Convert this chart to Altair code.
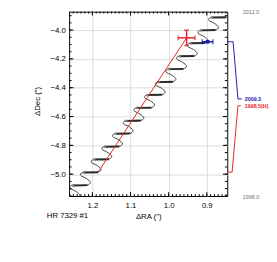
import altair as alt
import pandas as pd

# background track (RA offset, Dec offset), 6 points per yearly loop
track_ra = [1.279, 1.241, 1.233, 1.243, 1.259, 1.257,
            1.251, 1.213, 1.205, 1.215, 1.231, 1.229,
            1.223, 1.185, 1.177, 1.187, 1.203, 1.201,
            1.195, 1.157, 1.149, 1.159, 1.175, 1.173,
            1.167, 1.129, 1.121, 1.131, 1.147, 1.145,
            1.139, 1.101, 1.093, 1.103, 1.119, 1.117,
            1.111, 1.073, 1.065, 1.075, 1.091, 1.089,
            1.083, 1.045, 1.037, 1.047, 1.063, 1.061,
            1.055, 1.017, 1.009, 1.019, 1.035, 1.033,
            1.027, 0.989, 0.981, 0.991, 1.007, 1.005,
            0.999, 0.961, 0.953, 0.963, 0.979, 0.977,
            0.971, 0.933, 0.925, 0.935, 0.951, 0.949,
            0.943, 0.905, 0.897, 0.907, 0.923, 0.921,
            0.915, 0.877, 0.869, 0.879, 0.895, 0.893,
            0.887, 0.849, 0.841, 0.851, 0.867, 0.865,
            0.859]
track_dec = [-5.167, -5.165, -5.147, -5.120, -5.096, -5.081,
             -5.078, -5.076, -5.058, -5.031, -5.007, -4.992,
             -4.988, -4.986, -4.968, -4.941, -4.917, -4.902,
             -4.898, -4.896, -4.878, -4.851, -4.827, -4.812,
             -4.809, -4.807, -4.789, -4.762, -4.738, -4.723,
             -4.719, -4.717, -4.699, -4.672, -4.648, -4.633,
             -4.630, -4.628, -4.610, -4.583, -4.559, -4.544,
             -4.540, -4.538, -4.520, -4.493, -4.469, -4.454,
             -4.450, -4.448, -4.430, -4.403, -4.379, -4.364,
             -4.361, -4.359, -4.341, -4.314, -4.290, -4.275,
             -4.271, -4.269, -4.251, -4.224, -4.200, -4.185,
             -4.182, -4.180, -4.162, -4.135, -4.111, -4.096,
             -4.092, -4.090, -4.072, -4.045, -4.021, -4.006,
             -4.002, -4.000, -3.982, -3.955, -3.931, -3.916,
             -3.913, -3.911, -3.893, -3.866, -3.842, -3.827,
             -3.823]

# measurements
red_ra = [0.953]
red_dec = [-4.054]
red_ra_err = [0.022]
red_dec_err = [0.054]
blue_ra = [0.898]
blue_dec = [-4.081]
blue_ra_err = [0.014]
blue_dec_err = [0.009]

# red connection line: 1998.5 measurement -> track position at 1998.5
red_line_ra = [0.953, 1.185]
red_line_dec = [-4.054, -4.986]

# timeline markers at right
blue_tl_ra = [0.8463, 0.8310, 0.8183, 0.8080]
blue_tl_dec = [-4.081, -4.081, -4.478, -4.478]
red_tl_ra = [0.8463, 0.8336, 0.8183, 0.8107]
red_tl_dec = [-4.986, -4.986, -4.525, -4.525]
tl_labels = ["2009.3", "1998.5(H)"]
tl_label_ra = [0.8005, 0.8005]
tl_label_dec = [-4.478, -4.525]
tl_label_color = ["#1a1aa6", "#e8202a"]
end_labels = ["2012.0", "1998.0"]
end_label_ra = [0.8056, 0.8056]
end_label_dec = [-3.876, -5.158]

x_major = [1.2, 1.1, 1.0, 0.9]
y_major = [-4.0, -4.2, -4.4, -4.6, -4.8, -5.0]
x_minor = [0.85, 0.86, 0.87, 0.88, 0.89, 0.90, 0.91, 0.92, 0.93, 0.94, 0.95,
           0.96, 0.97, 0.98, 0.99, 1.00, 1.01, 1.02, 1.03, 1.04, 1.05, 1.06,
           1.07, 1.08, 1.09, 1.10, 1.11, 1.12, 1.13, 1.14, 1.15, 1.16, 1.17,
           1.18, 1.19, 1.20, 1.21, 1.22, 1.23, 1.24, 1.25, 1.26]
y_minor = [-3.90, -3.95, -4.00, -4.05, -4.10, -4.15, -4.20, -4.25, -4.30,
           -4.35, -4.40, -4.45, -4.50, -4.55, -4.60, -4.65, -4.70, -4.75,
           -4.80, -4.85, -4.90, -4.95, -5.00, -5.05, -5.10, -5.15]

W, H = 163, 190
FONT = "Liberation Sans"

xs = alt.Scale(domain=[0.8463, 1.2610], reverse=True, nice=False, zero=False)
ys = alt.Scale(domain=[-5.1515, -3.8721], nice=False, zero=False)

AX = alt.Axis(
    values=x_major, format=".1f", grid=True, gridColor="#dcdcdc", ticks=False,
    domain=False, labelFont=FONT, labelFontSize=8, labelColor="black",
    labelPadding=6, labelOverlap=False, title='ΔRA (")', titleFont=FONT,
    titleFontSize=8, titleFontWeight="normal", titleColor="black", titleY=21,
    titleBaseline="middle")
AY = alt.Axis(
    values=y_major, format=".1f", grid=True, gridColor="#dcdcdc", ticks=False,
    domain=False, labelFont=FONT, labelFontSize=8, labelColor="black",
    labelPadding=4, labelOverlap=False, title='ΔDec (")', titleFont=FONT,
    titleFontSize=8, titleFontWeight="normal", titleColor="black", titleX=-33,
    titleY=92, titleAngle=270, titleBaseline="middle", titleAlign="center")


def X(f):
    return alt.X(f, scale=xs, axis=AX)


def Y(f):
    return alt.Y(f, scale=ys, axis=AY)


track = pd.DataFrame({"ra": track_ra, "dec": track_dec, "i": range(len(track_ra))})
n_loops = (len(track_ra) - 1) // 6
dash = pd.DataFrame({
    "ra": [track_ra[6 * k] for k in range(n_loops)],
    "ra1": [track_ra[6 * k + 1] for k in range(n_loops)],
    "dec": [track_dec[6 * k] for k in range(n_loops)],
    "dec1": [track_dec[6 * k + 1] for k in range(n_loops)],
})

base_track = alt.Chart(track).mark_line(
    interpolate="catmull-rom", clip=True, color="#2a2a2a", strokeWidth=0.9
).encode(x=X("ra:Q"), y=Y("dec:Q"), order="i:Q")

dash_layer = alt.Chart(dash).mark_rule(clip=True, color="#2a2a2a", strokeWidth=2).encode(
    x=X("ra:Q"), x2="ra1:Q", y=Y("dec:Q"), y2="dec1:Q",
)

dots = alt.Chart(dash).mark_circle(clip=True, color="#808080", size=7, opacity=1).encode(
    x=X("ra:Q"), y=Y("dec:Q"),
)

red_line = alt.Chart(pd.DataFrame({"ra": red_line_ra, "dec": red_line_dec})).mark_line(
    color="#e8202a", strokeWidth=1
).encode(x=X("ra:Q"), y=Y("dec:Q"))


def errbar(ra, dec, era, edec, color, sw, caps_v=True):
    d = pd.DataFrame({"ra": ra, "dec": dec, "era": era, "edec": edec})
    d["ra_lo"] = d["ra"] - d["era"]
    d["ra_hi"] = d["ra"] + d["era"]
    d["dec_lo"] = d["dec"] - d["edec"]
    d["dec_hi"] = d["dec"] + d["edec"]
    b = alt.Chart(d)
    out = [
        b.mark_rule(color=color, strokeWidth=sw).encode(x=X("ra_lo:Q"), x2="ra_hi:Q", y=Y("dec:Q")),
        b.mark_rule(color=color, strokeWidth=sw).encode(x=X("ra:Q"), y=Y("dec_lo:Q"), y2="dec_hi:Q"),
        b.mark_tick(color=color, orient="vertical", size=5, thickness=sw).encode(x=X("ra_lo:Q"), y=Y("dec:Q")),
        b.mark_tick(color=color, orient="vertical", size=5, thickness=sw).encode(x=X("ra_hi:Q"), y=Y("dec:Q")),
    ]
    if caps_v:
        out += [
            b.mark_tick(color=color, orient="horizontal", size=5, thickness=sw).encode(x=X("ra:Q"), y=Y("dec_lo:Q")),
            b.mark_tick(color=color, orient="horizontal", size=5, thickness=sw).encode(x=X("ra:Q"), y=Y("dec_hi:Q")),
        ]
    return out


red_err = errbar(red_ra, red_dec, red_ra_err, red_dec_err, "#e8202a", 1.5)
blue_err = errbar(blue_ra, blue_dec, blue_ra_err, blue_dec_err, "#1a1aa6", 1.5, caps_v=False)
blue_pt = alt.Chart(pd.DataFrame({"ra": blue_ra, "dec": blue_dec})).mark_square(
    color="#1a1aa6", size=14, opacity=1).encode(x=X("ra:Q"), y=Y("dec:Q"))

tl = pd.concat([
    pd.DataFrame({"ra": blue_tl_ra, "dec": blue_tl_dec, "s": "b", "i": range(4)}),
    pd.DataFrame({"ra": red_tl_ra, "dec": red_tl_dec, "s": "r", "i": range(4)}),
])
tl_layer = alt.Chart(tl).mark_line(clip=False, strokeWidth=1).encode(
    x=X("ra:Q"), y=Y("dec:Q"),
    color=alt.Color("s:N", scale=alt.Scale(domain=["b", "r"], range=["#1a1aa6", "#e8202a"]), legend=None),
    order="i:Q", detail="s:N",
)
tl_text = alt.Chart(pd.DataFrame({"t": tl_labels, "ra": tl_label_ra, "dec": tl_label_dec, "c": tl_label_color})).mark_text(
    align="left", baseline="middle", font=FONT, fontSize=5.5, fontWeight="bold", clip=False
).encode(x=X("ra:Q"), y=Y("dec:Q"), text="t:N", color=alt.Color("c:N", scale=None))
end_text = alt.Chart(pd.DataFrame({"t": end_labels, "ra": end_label_ra, "dec": end_label_dec})).mark_text(
    align="left", baseline="middle", font=FONT, fontSize=5.5, color="#707070", clip=False
).encode(x=X("ra:Q"), y=Y("dec:Q"), text="t:N")

star_label = alt.Chart(pd.DataFrame({"t": ["HR 7329 #1"]})).mark_text(
    align="left", baseline="middle", font=FONT, fontSize=8, color="black"
).encode(text="t:N", x=alt.value(-23), y=alt.value(H + 21))


def tick_layers(vals, length):
    d = pd.DataFrame({"ra": vals})
    b = alt.Chart(d).mark_rule(color="black", strokeWidth=1)
    return [
        b.encode(x=X("ra:Q"), y=alt.value(0), y2=alt.value(length)),
        b.encode(x=X("ra:Q"), y=alt.value(H), y2=alt.value(H - length)),
    ]


def ytick_layers(vals, length):
    d = pd.DataFrame({"dec": vals})
    b = alt.Chart(d).mark_rule(color="black", strokeWidth=1)
    return [
        b.encode(y=Y("dec:Q"), x=alt.value(0), x2=alt.value(length)),
        b.encode(y=Y("dec:Q"), x=alt.value(W), x2=alt.value(W - length)),
    ]


ticks = (tick_layers(x_minor, 2) + tick_layers(x_major, 4)
         + ytick_layers(y_minor, 2.5) + ytick_layers(y_major, 4.5))

chart = alt.layer(
    base_track, dash_layer, dots, red_line, *red_err, *blue_err, blue_pt,
    tl_layer, tl_text, end_text, star_label, *ticks
).properties(
    width=W, height=H,
    autosize=alt.AutoSizeParams(type="none"),
    padding={"left": 63, "top": 0, "right": 43, "bottom": 56},
    background="white",
).configure_view(stroke="black", strokeWidth=1)

chart.save("out.html", embed_options={"renderer": "svg", "actions": False})
